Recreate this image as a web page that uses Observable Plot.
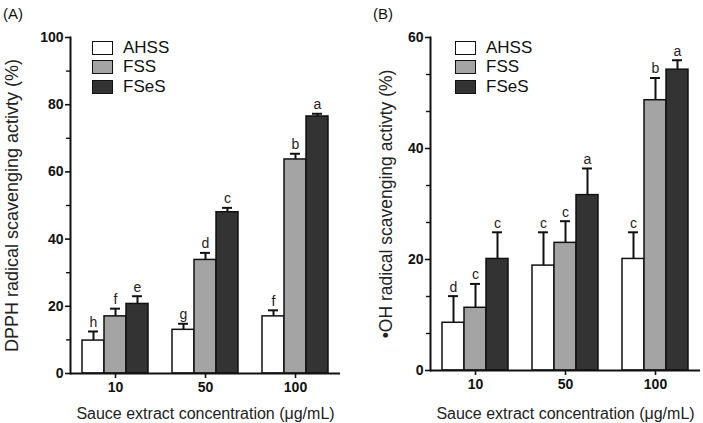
<!DOCTYPE html>
<html>
<head>
<meta charset="utf-8">
<script src="https://cdn.jsdelivr.net/npm/d3@7"></script>
<script src="https://cdn.jsdelivr.net/npm/@observablehq/plot@0.6"></script>
<style>
  body { margin: 0; background: #fff; font-family: Arial, "Liberation Sans", sans-serif; color: #111; }
  #wrap { display: flex; width: 703px; height: 423px; overflow: hidden; }
  .panel { position: relative; height: 423px; }
  .tag { position: absolute; top: 5px; font-size: 15px; }
  .legend { position: absolute; top: 38px; font-size: 17px; }
  .legend div { display: flex; align-items: center; height: 19.5px; }
  .legend span.sw { display: inline-block; width: 19px; height: 12px; border: 1.5px solid #111; margin-right: 10px; }
</style>
</head>
<body>
<div id="wrap">
  <div class="panel" id="panelA" style="width:351px">
    <div class="tag" style="left:3px">(A)</div>
    <div class="legend" id="legendA" style="left:92px"></div>
  </div>
  <div class="panel" id="panelB" style="width:352px">
    <div class="tag" style="left:22px">(B)</div>
    <div class="legend" id="legendB" style="left:104px"></div>
  </div>
</div>
<script>
// Sauce extract concentrations (µg/mL) and extract types
const concentrations = ["10", "50", "100"];
const extracts = ["AHSS", "FSS", "FSeS"];
const fills = ["#ffffff", "#a4a4a4", "#333333"];

// DPPH radical scavenging activity (%), mean and SD, one value per concentration
const dpphAHSS = [9.8, 13.0, 17.0];
const dpphFSS = [17.0, 33.8, 63.7];
const dpphFSeS = [20.7, 48.0, 76.5];
const dpphErrAHSS = [2.7, 1.8, 1.8];
const dpphErrFSS = [2.3, 2.1, 1.7];
const dpphErrFSeS = [2.3, 1.3, 0.8];
const dpphLetters = [["h", "f", "e"], ["g", "d", "c"], ["f", "b", "a"]];

// Hydroxyl radical scavenging activity (%), mean and SD
const ohAHSS = [8.6, 18.9, 20.1];
const ohFSS = [11.3, 23.0, 48.7];
const ohFSeS = [20.1, 31.6, 54.2];
const ohErrAHSS = [4.8, 6.0, 4.8];
const ohErrFSS = [4.3, 3.9, 4.0];
const ohErrFSeS = [4.8, 4.8, 1.7];
const ohLetters = [["d", "c", "c"], ["c", "c", "a"], ["c", "b", "a"]];

// Axis ticks
const dpphTicks = [0, 20, 40, 60, 80, 100];
const dpphMinorTicks = [10, 30, 50, 70, 90];
const ohTicks = [0, 20, 40, 60];
const ohMinorTicks = [20 / 3, 40 / 3, 80 / 3, 100 / 3, 140 / 3, 160 / 3];

function buildRows(series, errors, letters) {
  const rows = [];
  concentrations.forEach((conc, i) => {
    extracts.forEach((extract, j) => {
      rows.push({conc, extract, mean: series[j][i], err: errors[j][i], letter: letters[i][j]});
    });
  });
  return rows;
}

const dpphRows = buildRows([dpphAHSS, dpphFSS, dpphFSeS], [dpphErrAHSS, dpphErrFSS, dpphErrFSeS], dpphLetters);
const ohRows = buildRows([ohAHSS, ohFSS, ohFSeS], [ohErrAHSS, ohErrFSS, ohErrFSeS], ohLetters);

function barPanel({rows, yMax, ticks, minorTicks, yLabel, yLabelSize, width, marginLeft, marginRight, marginBottom, yLabelOffset, xLabelOffset}) {
  const top = (d) => d.mean + d.err;
  return Plot.plot({
    width,
    height: 423,
    marginTop: 37,
    marginBottom,
    marginLeft,
    marginRight,
    style: {fontFamily: "Arial, 'Liberation Sans', sans-serif", fontSize: "14px", color: "#111", background: "transparent"},
    fx: {domain: concentrations, padding: 0},
    x: {domain: extracts, paddingInner: 0, paddingOuter: 0.48, axis: null},
    y: {domain: [0, yMax], axis: null},
    color: {domain: extracts, range: fills},
    marks: [
      // error bars: upper whisker with cap
      Plot.ruleX(rows, {fx: "conc", x: "extract", y1: "mean", y2: top, stroke: "#111", strokeWidth: 2}),
      Plot.tickY(rows, {fx: "conc", x: "extract", y: top, insetLeft: 6, insetRight: 6, stroke: "#111", strokeWidth: 2}),
      Plot.barY(rows, {fx: "conc", x: "extract", y: "mean", fill: "extract", stroke: "#111", strokeWidth: 1.5}),
      // significance letters
      Plot.text(rows, {fx: "conc", x: "extract", y: top, text: "letter", dy: -9, fontSize: 14, fill: "#222"}),
      // axis lines
      Plot.ruleY([0], {stroke: "#111", strokeWidth: 2}),
      Plot.frame({anchor: "left", fx: [concentrations[0]], stroke: "#111", strokeWidth: 2}),
      // y ticks (major with labels, minor without) and y title
      Plot.axisY({ticks, tickSize: 5, tickPadding: 2, fontWeight: "bold", fontSize: 14, strokeWidth: 1.6, label: null}),
      Plot.axisY({ticks: minorTicks, tickSize: 4, tickFormat: () => "", strokeWidth: 1.4, label: null}),
      Plot.axisY({ticks: [], tickSize: 0, fontSize: yLabelSize, fill: "#222",
        label: yLabel, labelAnchor: "center", labelArrow: "none", labelOffset: yLabelOffset}),
      // concentration ticks and x title
      Plot.axisFx({anchor: "bottom", tickSize: 5, tickPadding: 4, fontWeight: "bold", fontSize: 14, strokeWidth: 1.6, label: null}),
      Plot.axisFx({anchor: "bottom", ticks: [], tickSize: 0, fontSize: 16, fill: "#222",
        label: "Sauce extract concentration (\u03bcg/mL)", labelAnchor: "center", labelArrow: "none", labelOffset: xLabelOffset})
    ]
  });
}

function legend(el) {
  extracts.forEach((name, i) => {
    const row = document.createElement("div");
    const sw = document.createElement("span");
    sw.className = "sw";
    sw.style.background = fills[i];
    row.appendChild(sw);
    row.appendChild(document.createTextNode(name));
    el.appendChild(row);
  });
}

const chartA = barPanel({
  rows: dpphRows, yMax: 100, ticks: dpphTicks, minorTicks: dpphMinorTicks,
  yLabel: "DPPH radical scavenging activty (%)", yLabelSize: 18,
  width: 351, marginLeft: 70, marginRight: 11, marginBottom: 50, yLabelOffset: 65, xLabelOffset: 45
});
const chartB = barPanel({
  rows: ohRows, yMax: 60, ticks: ohTicks, minorTicks: ohMinorTicks,
  yLabel: "\u2022OH radical scavenging activty (%)", yLabelSize: 17.5,
  width: 352, marginLeft: 79, marginRight: 3, marginBottom: 53, yLabelOffset: 51, xLabelOffset: 48
});
document.getElementById("panelA").prepend(chartA);
document.getElementById("panelB").prepend(chartB);
legend(document.getElementById("legendA"));
legend(document.getElementById("legendB"));
</script>
</body>
</html>
